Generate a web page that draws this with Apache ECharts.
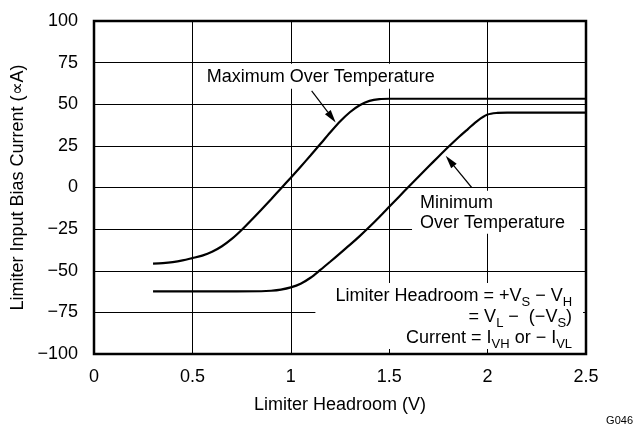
<!DOCTYPE html>
<html><head><meta charset="utf-8">
<script src="https://cdn.jsdelivr.net/npm/echarts@6/dist/echarts.min.js"></script>
<style>html,body{margin:0;padding:0;background:#fff}#c{width:634px;height:428px}</style>
</head><body><div id="c"></div>
<script>
// Maximum over temperature curve
const maxX = [0.3, 0.35, 0.4, 0.45, 0.5, 0.55, 0.6, 0.65, 0.7, 0.75, 0.8, 0.85, 0.9, 0.95, 1.0, 1.05, 1.1, 1.15, 1.2, 1.25, 1.3, 1.35, 1.4, 1.45, 1.5, 2.0, 2.5];
const maxY = [-45.7, -45.4, -44.8, -43.8, -42.4, -40.9, -38.6, -35.3, -30.9, -25.5, -19.5, -13.3, -7, -0.6, 5.9, 12.5, 19.2, 26.1, 33, 39.6, 45.2, 49.4, 52, 53.1, 53.3, 53.3, 53.3];
// Minimum over temperature curve
const minX = [0.3, 0.6, 0.85, 0.9, 0.95, 1.0, 1.05, 1.1, 1.15, 1.2, 1.25, 1.3, 1.35, 1.4, 1.45, 1.5, 1.55, 1.6, 1.65, 1.7, 1.75, 1.8, 1.85, 1.9, 1.95, 2.0, 2.05, 2.1, 2.5];
const minY = [-62.4, -62.4, -62.3, -62, -61.3, -60, -57.8, -54.2, -49.5, -44.6, -39.6, -34.5, -29.2, -23.6, -17.7, -11.6, -5.5, 0.6, 6.6, 12.6, 18.5, 24.3, 29.9, 35.1, 40.2, 43.8, 44.8, 45, 45];

const xTicks = [0, 0.5, 1, 1.5, 2, 2.5];
const xTickLabels = ['0', '0.5', '1', '1.5', '2', '2.5'];
const yTicks = [-100, -75, -50, -25, 0, 25, 50, 75, 100];
const yTickLabels = ['\u2212100', '\u221275', '\u221250', '\u221225', '0', '25', '50', '75', '100'];

const xTitle = 'Limiter Headroom (V)';
const yTitle = 'Limiter Input Bias Current (\u221DA)';
const maxLabel = 'Maximum Over Temperature';
const minLabel = 'Minimum\nOver Temperature';
const noteText = '{n|Limiter Headroom = +V}{s|S}{n| \u2212 V}{s|H}\n{n|= V}{s|L}{n| \u2212  (\u2212V}{s|S}{n|)}\n{n|Current = I}{s|VH}{n| or \u2212 I}{s|VL}';
const figId = 'G046';

// annotation anchors in data coordinates
const maxArrow = [[1.106, 58.1], [1.228, 39.0]];   // [tail, tip]
const minArrow = [[1.919, 0], [1.787, 19]];
const maxLabelAt = [0.542, 74.3];
const minLabelAt = [1.616, -2.0];
const noteAt = [2.485, -57.3];

const FF = '"Liberation Sans", Arial, Helvetica, sans-serif';
const chart = echarts.init(document.getElementById('c'), null, {renderer: 'canvas'});

const pairs = (xs, ys) => xs.map((x, i) => [x, ys[i]]);

chart.setOption({
  animation: false,
  backgroundColor: '#fff',
  grid: {left: 94, right: 48, top: 21, bottom: 74, show: true, borderColor: '#000', borderWidth: 2.5, outerBoundsMode: 'none', containLabel: false},
  xAxis: {
    type: 'value', min: 0, max: 2.5, interval: 0.5,
    name: xTitle, nameLocation: 'middle', nameGap: 42,
    nameTextStyle: {fontFamily: FF, fontSize: 18, color: '#000'},
    axisLine: {show: false}, axisTick: {show: false},
    axisLabel: {fontFamily: FF, fontSize: 18, color: '#000', margin: 14,
      formatter: v => { const i = xTicks.findIndex(t => Math.abs(t - v) < 1e-6); return i >= 0 ? xTickLabels[i] : ''; }},
    splitLine: {show: true, lineStyle: {color: '#000', width: 1}}
  },
  yAxis: {
    type: 'value', min: -100, max: 100, interval: 25,
    name: yTitle, nameLocation: 'middle', nameGap: 64,
    nameTextStyle: {fontFamily: FF, fontSize: 18, color: '#000'},
    axisLine: {show: false}, axisTick: {show: false},
    axisLabel: {fontFamily: FF, fontSize: 18, color: '#000', margin: 16,
      formatter: v => { const i = yTicks.indexOf(v); return i >= 0 ? yTickLabels[i] : ''; }},
    splitLine: {show: true, lineStyle: {color: '#000', width: 1}}
  },
  series: [
    {type: 'line', data: pairs(maxX, maxY), showSymbol: false, symbol: 'none', smooth: 0.3,
     lineStyle: {color: '#000', width: 2.2}, z: 3, silent: true},
    {type: 'line', data: pairs(minX, minY), showSymbol: false, symbol: 'none', smooth: 0.3,
     lineStyle: {color: '#000', width: 2.2}, z: 3, silent: true}
  ]
});

const px = p => chart.convertToPixel({gridIndex: 0}, p);

function arrow(tailD, tipD) {
  const a = px(tailD), b = px(tipD);
  const dx = b[0] - a[0], dy = b[1] - a[1];
  const L = Math.hypot(dx, dy), ux = dx / L, uy = dy / L;
  const hl = 13, hw = 3.6;
  const bx = b[0] - ux * hl, by = b[1] - uy * hl;
  return [
    {type: 'line', z: 4, silent: true, shape: {x1: a[0], y1: a[1], x2: bx, y2: by}, style: {stroke: '#000', lineWidth: 1.2}},
    {type: 'polygon', z: 4, silent: true, shape: {points: [[b[0], b[1]], [bx - uy * hw, by + ux * hw], [bx + uy * hw, by - ux * hw]]}, style: {fill: '#000'}}
  ];
}

const pMax = px(maxLabelAt), pMin = px(minLabelAt), pNote = px(noteAt);
chart.setOption({
  graphic: [
    {type: 'text', z: 1, silent: true, x: pMax[0], y: pMax[1],
     style: {text: maxLabel, font: '18px ' + FF, fill: '#000', align: 'left', verticalAlign: 'top',
       lineHeight: 20, backgroundColor: '#fff', padding: [3, 6, 2, 6]}},
    {type: 'text', z: 1, silent: true, x: pMin[0], y: pMin[1],
     style: {text: minLabel, font: '18px ' + FF, fill: '#000', align: 'left', verticalAlign: 'top',
       lineHeight: 20, backgroundColor: '#fff', padding: [2, 15, 1, 8]}},
    {type: 'text', z: 1, silent: true, x: pNote[0], y: pNote[1],
     style: {text: noteText, font: '18px ' + FF, fill: '#000', align: 'right', verticalAlign: 'top',
       lineHeight: 21, backgroundColor: '#fff', padding: [3, 11, 0, 20],
       rich: {
         n: {fontSize: 18, fontFamily: FF, fill: '#000', lineHeight: 21},
         s: {fontSize: 13, fontFamily: FF, fill: '#000', height: 8, verticalAlign: 'bottom'}
       }}},
    {type: 'text', z: 1, silent: true, right: 1, bottom: 2,
     style: {text: figId, font: '11px ' + FF, fill: '#000'}},
    ...arrow(maxArrow[0], maxArrow[1]),
    ...arrow(minArrow[0], minArrow[1])
  ]
});
</script>
</body></html>
